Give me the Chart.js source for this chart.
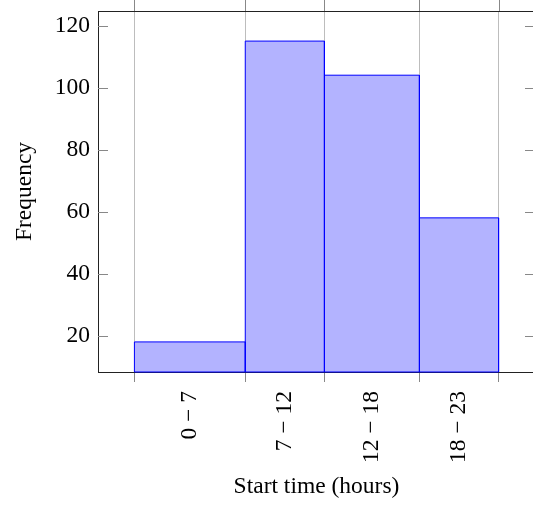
<!DOCTYPE html>
<html>
<head>
<meta charset="utf-8">
<script src="https://cdn.jsdelivr.net/npm/chart.js@4/dist/chart.umd.min.js"></script>
<style>
html, body { margin: 0; padding: 0; background: #fff; overflow: hidden; }
#wrap { width: 533px; height: 505px; overflow: hidden; }
</style>
</head>
<body>
<div id="wrap"><canvas id="histogram" width="540" height="505"></canvas></div>
<script>
const binEdges = [0, 7, 12, 18, 23];
const binLabels = ['0 \u2212 7', '7 \u2212 12', '12 \u2212 18', '18 \u2212 23'];
const frequencies = [18, 115, 104, 58];
const yTicks = [20, 40, 60, 80, 100, 120];

// limits enlarged by 10% like pgfplots does
const xSpan = binEdges[binEdges.length - 1] - binEdges[0];
const xMin = binEdges[0] - 0.1 * xSpan;
const xMax = binEdges[binEdges.length - 1] + 0.1 * xSpan;
const fMin = Math.min(...frequencies), fMax = Math.max(...frequencies);
const yMin = fMin - 0.1 * (fMax - fMin);
const yMax = fMax + 0.1 * (fMax - fMin);

const mids = binLabels.map((_, i) => (binEdges[i] + binEdges[i + 1]) / 2);
const serif = { family: '"Liberation Serif", "Times New Roman", serif', size: 23.5 };

const datasets = frequencies.map((f, i) => ({
  data: [
    { x: binEdges[i], y: yMin },
    { x: binEdges[i], y: f },
    { x: binEdges[i + 1], y: f },
    { x: binEdges[i + 1], y: yMin },
    { x: binEdges[i], y: yMin }
  ],
  borderColor: '#0000ff',
  borderWidth: 1,
  backgroundColor: 'rgb(179,179,255)',
  fill: 'shape',
  pointRadius: 0,
  tension: 0,
  clip: false
}));

/* top/right frame, inward y ticks, outward top x ticks */
const frame = {
  id: 'frame',
  afterDraw(chart) {
    const { ctx, chartArea: a, scales: { x, y } } = chart;
    ctx.save();
    ctx.lineWidth = 1;
    ctx.strokeStyle = '#222';
    ctx.beginPath();
    ctx.moveTo(a.left, Math.round(a.top) + 0.5);
    ctx.lineTo(a.right, Math.round(a.top) + 0.5);
    ctx.moveTo(Math.round(a.right) + 0.5, a.top);
    ctx.lineTo(Math.round(a.right) + 0.5, a.bottom);
    ctx.stroke();
    ctx.strokeStyle = '#888';
    ctx.beginPath();
    binEdges.forEach(e => {
      const px = Math.round(x.getPixelForValue(e)) + 0.5;
      ctx.moveTo(px, a.top);
      ctx.lineTo(px, a.top - 11);
    });
    yTicks.forEach(v => {
      const py = Math.round(y.getPixelForValue(v)) + 0.5;
      ctx.moveTo(a.left, py);
      ctx.lineTo(a.left + 10, py);
      ctx.moveTo(a.right, py);
      ctx.lineTo(a.right - 10, py);
    });
    ctx.stroke();
    ctx.restore();
  }
};

new Chart(document.getElementById('histogram'), {
  type: 'line',
  data: { datasets: datasets },
  plugins: [frame],
  options: {
    responsive: false,
    devicePixelRatio: 1,
    animation: false,
    layout: { padding: { top: 11, right: 5, bottom: 0, left: 0 } },
    plugins: { legend: { display: false }, tooltip: { enabled: false } },
    scales: {
      x: {
        type: 'linear',
        min: xMin,
        max: xMax,
        afterBuildTicks: s => {
          s.ticks = [...binEdges, ...mids].sort((a, b) => a - b).map(v => ({ value: v }));
        },
        afterFit: s => { s.height = 133; s.paddingLeft = 0; s.paddingRight = 0; },
        ticks: {
          autoSkip: false,
          minRotation: 90,
          maxRotation: 90,
          padding: 9,
          color: '#000',
          font: serif,
          callback: v => {
            const i = mids.indexOf(v);
            return i >= 0 ? binLabels[i] : '';
          }
        },
        grid: {
          color: c => binEdges.includes(c.tick && c.tick.value) ? '#bdbdbd' : 'rgba(0,0,0,0)',
          tickColor: c => binEdges.includes(c.tick && c.tick.value) ? '#888' : 'rgba(0,0,0,0)',
          tickLength: 10
        },
        border: { color: '#222', width: 1 },
        title: { display: true, text: 'Start time (hours)', color: '#000', font: serif, padding: { top: 4, bottom: 4 } }
      },
      y: {
        min: yMin,
        max: yMax,
        afterBuildTicks: s => { s.ticks = yTicks.map(v => ({ value: v })); },
        afterFit: s => { s.width = 98; s.paddingTop = 0; s.paddingBottom = 0; },
        ticks: { padding: 8, color: '#000', font: serif },
        grid: { drawOnChartArea: false, drawTicks: false },
        border: { color: '#222', width: 1 },
        title: { display: true, text: 'Frequency', color: '#000', font: serif, padding: { top: 11, bottom: 0 } }
      }
    }
  }
});
</script>
</body>
</html>
